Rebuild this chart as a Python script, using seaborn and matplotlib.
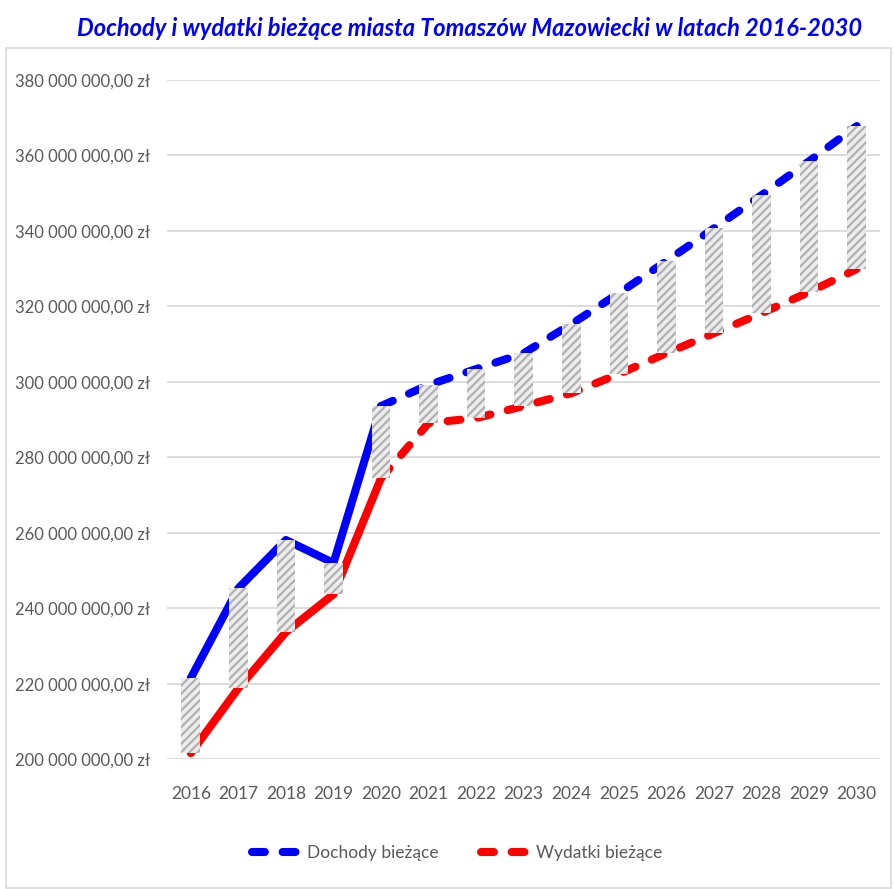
import matplotlib
matplotlib.use("Agg")
import matplotlib.pyplot as plt
import matplotlib.ticker as mticker
from matplotlib.lines import Line2D
from matplotlib.patches import Rectangle
import pandas as pd
import seaborn as sns

# =========================
# DATA
# =========================
lata = [2016, 2017, 2018, 2019, 2020, 2021, 2022, 2023, 2024, 2025,
        2026, 2027, 2028, 2029, 2030]
dochody = [221.5, 245.3, 258.1, 252.0, 293.6, 299.2, 303.4, 307.6, 315.3, 323.5,
           332.0, 340.7, 349.5, 358.5, 367.8]   # mln zł
wydatki = [201.6, 218.8, 233.7, 243.7, 274.5, 289.1, 290.4, 293.6, 297.0, 302.1,
           307.6, 312.9, 318.2, 323.8, 329.9]   # mln zł
ostatni_wykonany = 2020  # solid line up to this year, dashed after

df = pd.DataFrame({"rok": lata,
                   "dochody": [v * 1e6 for v in dochody],
                   "wydatki": [v * 1e6 for v in wydatki]})
hist = df[df["rok"] <= ostatni_wykonany]
prog = df[df["rok"] >= ostatni_wykonany]

# =========================
# STYLE
# =========================
sns.set_theme(style="white")
plt.rcParams["font.family"] = ["Lato", "DejaVu Sans"]
plt.rcParams["hatch.linewidth"] = 1.6

text_grey = "#595959"
grid_grey = "#d9d9d9"
blue = "#0000FF"
red = "#FF0000"
lw = 5.8
dash = (0, (1.6, 2.2))

fig = plt.figure(figsize=(8.93, 8.89), dpi=100)
ax = fig.add_axes([0.187, 0.146, 0.799, 0.764])

# =========================
# LINES
# =========================
for col, c in [("dochody", blue), ("wydatki", red)]:
    sns.lineplot(data=hist, x="rok", y=col, ax=ax, color=c, lw=lw,
                 solid_capstyle="round", solid_joinstyle="round", zorder=2)
    sns.lineplot(data=prog, x="rok", y=col, ax=ax, color=c, lw=lw,
                 linestyle=dash, dash_capstyle="round", zorder=2)

# up-down bars
ax.bar(df["rok"], df["dochody"] - df["wydatki"], bottom=df["wydatki"],
       width=0.39, color="#ececec", edgecolor="#b0b0b0", linewidth=0,
       hatch="////", zorder=3)

# =========================
# AXES
# =========================
ax.set_xlim(2015.5, 2030.5)
ax.set_ylim(200e6, 380e6)
ax.set_yticks([200e6 + i * 20e6 for i in range(10)])
ax.set_xticks(lata)
ax.yaxis.set_major_formatter(mticker.FuncFormatter(
    lambda v, p: f"{v:,.2f}".replace(",", " ").replace(".", ",") + " zł"))
ax.yaxis.grid(True, color=grid_grey, lw=1.3)
ax.set_axisbelow(True)
for s in ax.spines.values():
    s.set_visible(False)
ax.tick_params(axis="y", length=0, pad=12, labelsize=12, labelcolor=text_grey)
ax.tick_params(axis="x", length=0, pad=19, labelsize=12.5, labelcolor=text_grey)
ax.set_xlabel("")
ax.set_ylabel("")

handles = [Line2D([], [], color=blue, lw=lw, linestyle=dash, dash_capstyle="round"),
           Line2D([], [], color=red, lw=lw, linestyle=dash, dash_capstyle="round")]
fig.legend(handles, ["Dochody bieżące", "Wydatki bieżące"], loc="center",
           bbox_to_anchor=(0.512, 0.040), ncol=2, frameon=False, fontsize=12.5,
           labelcolor=text_grey, handlelength=2.6, columnspacing=2.4,
           handletextpad=0.6)

fig.text(0.526, 0.9685,
         "Dochody i wydatki bieżące miasta Tomaszów Mazowiecki w latach 2016-2030",
         ha="center", va="center", fontsize=17, fontweight="bold",
         fontstyle="italic", color=blue)

# chart border
fig.patches.append(Rectangle((6 / 893, 0.001), 885 / 893, 1 - 48 / 889 - 0.001,
                             transform=fig.transFigure, fill=False,
                             edgecolor=grid_grey, lw=1.2))

fig.savefig("out.png", dpi=100)
